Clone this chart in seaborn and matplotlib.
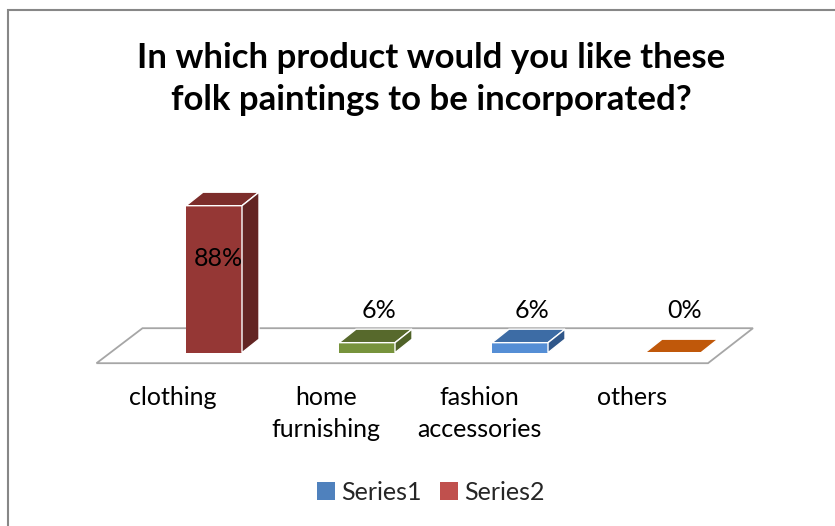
import numpy as np
import pandas as pd
import matplotlib
matplotlib.use("Agg")
import matplotlib.pyplot as plt
from matplotlib.patches import Polygon, Rectangle
from matplotlib.transforms import IdentityTransform
import seaborn as sns

# Survey answers
categories = ["clothing", "home furnishing", "fashion accessories", "others"]
tick_labels = ["clothing", "home\nfurnishing", "fashion\naccessories", "others"]
values = [88, 6, 6, 0]
value_labels = [f"{v}%" for v in values]

# Face colours of each 3D column (front / top / side)
front_colors = ["#953735", "#77933C", "#558ED5", "#C0580A"]
top_colors = ["#7C2D2B", "#57692C", "#3D6CA5", "#C0580A"]
side_colors = ["#632523", "#4F6228", "#30578A", "#984807"]

series_names = ["Series1", "Series2"]
series_colors = ["#4F81BD", "#C0504D"]
title = "In which product would you like these\nfolk paintings to be incorporated?"

W, H, DPI = 835, 526, 100
sns.set_theme(style="white")
plt.rcParams["font.family"] = ["Lato", "DejaVu Sans"]

fig = plt.figure(figsize=(W / DPI, H / DPI), dpi=DPI)
fig.patch.set_facecolor("white")
ax = fig.add_axes([0, 0, 1, 1])
ax.set_facecolor("none")

df = pd.DataFrame({"category": categories, "value": values})
sns.barplot(data=df, x="category", y="value", hue="category",
            palette=front_colors, width=0.366, legend=False, ax=ax,
            saturation=1, edgecolor="none", linewidth=0, zorder=3)

# Scale: one category step = 153 px, 1 % = 147/88 px, baseline 352.7 px from top
step_px = 153.0
unit_px = 147.0 / 88.0
x0_px = 214.0
base_px = 352.7
ax.set_xlim(-x0_px / step_px, (W - x0_px) / step_px)
ax.set_ylim(-(H - base_px) / unit_px, base_px / unit_px)
ax.axis("off")

DX, DY = 17.0, 13.5  # depth of the columns in pixels


def disp(x, v, ox=0.0, oy=0.0):
    px, py = ax.transData.transform((x, v))
    return (px + ox, py + oy)


def poly(points, color, z, **kw):
    ax.add_patch(Polygon(points, closed=True, facecolor=color,
                         transform=IdentityTransform(), zorder=z, **kw))


# Floor of the 3D plot
n = len(categories)
floor = [disp(-0.5, 0, -41.0, -10.5), disp(n - 0.5, 0, -41.5, -10.5),
         disp(n - 0.5, 0, 3.5, 24.5), disp(-0.5, 0, 5.0, 24.5)]
poly(floor, "white", 1, edgecolor="#A6A6A6", linewidth=1.3)

floor_back_y = disp(0, 0, 0, 24.5)[1]

bars = [p for p in ax.patches if isinstance(p, Rectangle)]
for i, bar in enumerate(bars):
    xl = bar.get_x()
    xr = xl + bar.get_width()
    v = bar.get_height()
    L, B = disp(xl, 0)
    R, T = disp(xr, v)
    poly([(L, T), (R, T), (R + DX, T + DY), (L + DX, T + DY)], top_colors[i], 3)
    if v > 0:
        poly([(R, B), (R + DX, B + DY), (R + DX, T + DY), (R, T)], side_colors[i], 3)
    cx = (L + R) / 2
    if v > 50:
        ax.text(cx + 4, T - 53, value_labels[i], transform=IdentityTransform(),
                ha="center", va="center", fontsize=18, color="black", zorder=5)
    else:
        ly = max(T + 32, floor_back_y + 18)
        ax.text(cx + 12, ly, value_labels[i], transform=IdentityTransform(),
                ha="center", va="center", fontsize=18, color="black", zorder=5)

# Category labels under the front edge of the floor
for i, lab in enumerate(tick_labels):
    lx, _ = disp(i, 0, -41.0, 0)
    ax.text(lx, H - 386, lab, transform=IdentityTransform(), ha="center", va="top",
            fontsize=18, color="black", linespacing=1.45)

# Title
fig.text(431 / W, 1 - 79 / H, title, ha="center", va="center", fontsize=25,
         fontweight="bold", color="black", linespacing=1.38)

# Legend
handles = [Rectangle((0, 0), 1, 1, facecolor=c, edgecolor="none") for c in series_colors]
fig.legend(handles, series_names, loc="center", bbox_to_anchor=(431 / W, 1 - 492 / H),
           ncol=2, frameon=False, fontsize=18, handlelength=0.7, handleheight=0.7,
           handletextpad=0.25, columnspacing=0.75, borderpad=0)

# Chart area border
fig.add_artist(Rectangle((7.5, -10), W + 20, H - 9.5 + 10, transform=IdentityTransform(),
                         facecolor="none", edgecolor="#878787", linewidth=1.5))

fig.savefig("out.png", dpi=DPI)
